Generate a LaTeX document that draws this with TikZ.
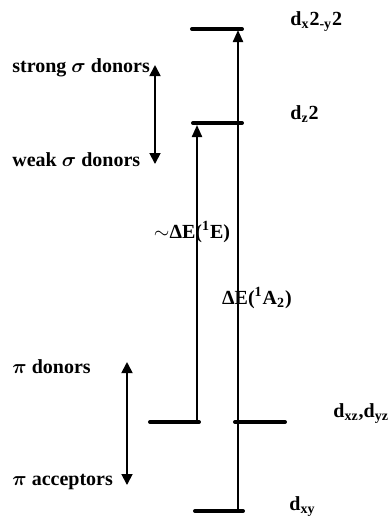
\documentclass[tikz,border=0pt]{standalone}
\usepackage{bm}
\usepackage{fontspec}
\setmainfont{Liberation Serif}
\usetikzlibrary{arrows.meta, positioning}
\tikzset{
    level/.style={line width=2pt, line cap=round},
    trans/.style={-{Triangle[length=6pt, width=5pt]}, line width=1.1pt},
    spread/.style={{Triangle[length=5.5pt, width=5.5pt]}-{Triangle[length=5.5pt, width=5.5pt]}, line width=0.9pt},
    lbl/.style={font=\bfseries, inner sep=0pt, anchor=west},
    elbl/.style={font=\bfseries, inner sep=1pt}
}
\begin{document}
\begin{tikzpicture}[x=0.5pt, y=-0.5pt]
\useasboundingbox (0,0) rectangle (389,516);
% ── Level end points ──────────────────────────────────────────────────
\coordinate (xya) at (192,29);  \coordinate (xyb) at (242,29);
\coordinate (zza) at (193,123); \coordinate (zzb) at (242,123);
\coordinate (xza) at (150,422); \coordinate (xzb) at (199,422);
\coordinate (yza) at (235,422); \coordinate (yzb) at (285,422);
\coordinate (dxa) at (195,511); \coordinate (dxb) at (243,511);

% ── d levels ──────────────────────────────────────────────────────────
\draw[level] (xya) -- (xyb);
\draw[level] (zza) -- (zzb);
\draw[level] (xza) -- (xzb);
\draw[level] (yza) -- (yzb);
\draw[level] (dxa) -- (dxb);

% ── Level labels ──────────────────────────────────────────────────────
\node[lbl] at (290,22)  (lx2) {d\textsubscript{x}2\textsubscript{-y}2};
\node[lbl] at (290,114) (lz2) {d\textsubscript{z}2};
\node[lbl] at (333,414) (lxz) {d\textsubscript{xz},d\textsubscript{yz}};
\node[lbl] at (289,507) (lxy) {d\textsubscript{xy}};

% ── Transitions ───────────────────────────────────────────────────────
\coordinate (e0) at (197,422); \coordinate (e1) at (197,125);
\coordinate (a0) at (238,511); \coordinate (a1) at (238,30);
\draw[trans] (e0) -- (e1);
\draw[trans] (a0) -- (a1);
\node[elbl] at (192,232) (eE) {$\sim$ΔE(\textsuperscript{1}E)};
\node[elbl] at (257,298) (eA) {ΔE(\textsuperscript{1}A\textsubscript{2})};

% ── Ligand ranges ─────────────────────────────────────────────────────
\node[lbl] at (12,68)  (ss) {strong $\bm{\sigma}$ donors};
\node[lbl] at (12,160) (ws) {weak $\bm{\sigma}$ donors};
\node[lbl] at (12,367) (pd) {$\bm{\pi}$ donors};
\node[lbl] at (12,482) (pa) {$\bm{\pi}$ acceptors};
\coordinate (s0) at (155,65);  \coordinate (s1) at (155,164);
\coordinate (p0) at (127,362); \coordinate (p1) at (127,485);
\draw[spread] (s0) -- (s1);
\draw[spread] (p0) -- (p1);
\end{tikzpicture}
\end{document}
